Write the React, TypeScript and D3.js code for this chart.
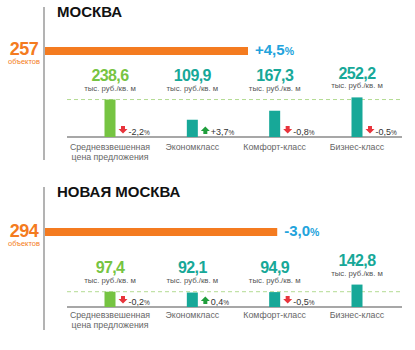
import React from "react";
import * as d3 from "d3";

const regions = ["МОСКВА", "НОВАЯ МОСКВА"];
const objectCounts = [257, 294];
const countChanges = ["+4,5", "-3,0"];
const categories = [["Средневзвешенная", "цена предложения"], ["Экономкласс"], ["Комфорт-класс"], ["Бизнес-класс"]];
const moscowPrices = [238.6, 109.9, 167.3, 252.2];
const newMoscowPrices = [97.4, 92.1, 94.9, 142.8];
const moscowChanges = ["-2,2", "+3,7", "-0,8", "-0,5"];
const newMoscowChanges = ["-0,2", "0,4", "-0,5", null];
const unitLabel = "тыс. руб./кв. м";
const countLabel = "объектов";

const prices = [moscowPrices, newMoscowPrices];
const changes = [moscowChanges, newMoscowChanges];

const layouts = [
  { title: 17, lineTop: 7, lineBottom: 160, bar: 47, countBase: 54.5, countLbl: 64, base: 137, cat: 150 },
  { title: 197, lineTop: 187, lineBottom: 330, bar: 228, countBase: 236.5, countLbl: 246, base: 307, cat: 318 },
];

const ORANGE = "#f47b20";
const GREEN = "#76c442";
const TEAL = "#17a898";
const BLUE = "#22a3dc";
const FONT = "'Liberation Sans', Arial, sans-serif";

const fmt = (v: number) => d3.format(".1f")(v).replace(".", ",");

export default function App() {
  const W = 415, H = 350;
  const xCount = d3.scaleLinear().domain([0, 257]).range([0, 203]);
  const hScale = d3.scaleLinear().domain([0, 100]).range([0, 15.7]);
  const xCat = d3.scalePoint<number>().domain(d3.range(categories.length)).range([110, 357]);
  const barW = 11;
  const barX0 = 45;

  return (
    <svg width={W} height={H} style={{ position: "absolute", left: 0, top: 0, fontFamily: FONT }}>
      <rect width={W} height={H} fill="#fff" />
      {regions.map((name, r) => {
        const L = layouts[r];
        const vals = prices[r];
        const dashY = L.base - hScale(vals[0]);
        return (
          <g key={r}>
            <line x1={44} x2={44} y1={L.lineTop} y2={L.lineBottom} stroke="#9a9a9a" strokeWidth={1.5} />
            <text x={57} y={L.title} fontSize={15} fontWeight="bold" fill="#111">{name}</text>
            <text x={24} y={L.countBase} textAnchor="middle" fontSize={18} fontWeight="bold" fill={ORANGE} letterSpacing={-0.5}>{objectCounts[r]}</text>
            <text x={24} y={L.countLbl} textAnchor="middle" fontSize={7.5} fill={ORANGE}>{countLabel}</text>
            <rect x={barX0} y={L.bar} width={xCount(objectCounts[r])} height={8} fill={ORANGE} />
            <text x={barX0 + xCount(objectCounts[r]) + 7} y={L.bar + 8} fontSize={15} fontWeight="bold" fill={BLUE}>
              {countChanges[r]}<tspan fontSize={10.5}>%</tspan>
            </text>
            <line x1={67} x2={403} y1={dashY} y2={dashY} stroke="#b3db92" strokeWidth={1} strokeDasharray="4,3" />
            <line x1={67} x2={402} y1={L.base} y2={L.base} stroke="#8a8a8a" strokeWidth={1.5} />
            {vals.map((v, i) => {
              const cx = xCat(i)!;
              const top = L.base - hScale(v);
              const color = i === 0 ? GREEN : TEAL;
              const unitY = Math.min(top, dashY) - 9;
              const ch = changes[r][i];
              const down = ch && ch.startsWith("-");
              const ax = cx + barW / 2 + 7.5;
              const ay = L.base - 7;
              return (
                <g key={i}>
                  <rect x={cx - barW / 2} y={top} width={barW} height={hScale(v)} fill={color} />
                  <text x={cx} y={unitY - 9.5} textAnchor="middle" fontSize={16} fontWeight="bold" fill={color} letterSpacing={-0.6}>{fmt(v)}</text>
                  <text x={cx} y={unitY} textAnchor="middle" fontSize={7.8} fill="#555">{unitLabel}</text>
                  {categories[i].map((c, k) => (
                    <text key={k} x={cx} y={L.cat + k * 10} textAnchor="middle" fontSize={8.8} fill="#666">{c}</text>
                  ))}
                  {ch && (
                    <g>
                      <path
                        d={down
                          ? `M${ax - 2},${ay - 4} h4 v3 h2.5 l-4.5,4.5 l-4.5,-4.5 h2.5 z`
                          : `M${ax - 2},${ay + 4} h4 v-3 h2.5 l-4.5,-4.5 l-4.5,4.5 h2.5 z`}
                        fill={down ? "#e8343c" : "#1f9e3c"}
                      />
                      <text x={ax + 5.5} y={L.base - 2} fontSize={9} fill="#333">
                        {ch}<tspan fontSize={6.5}>%</tspan>
                      </text>
                    </g>
                  )}
                </g>
              );
            })}
          </g>
        );
      })}
    </svg>
  );
}
